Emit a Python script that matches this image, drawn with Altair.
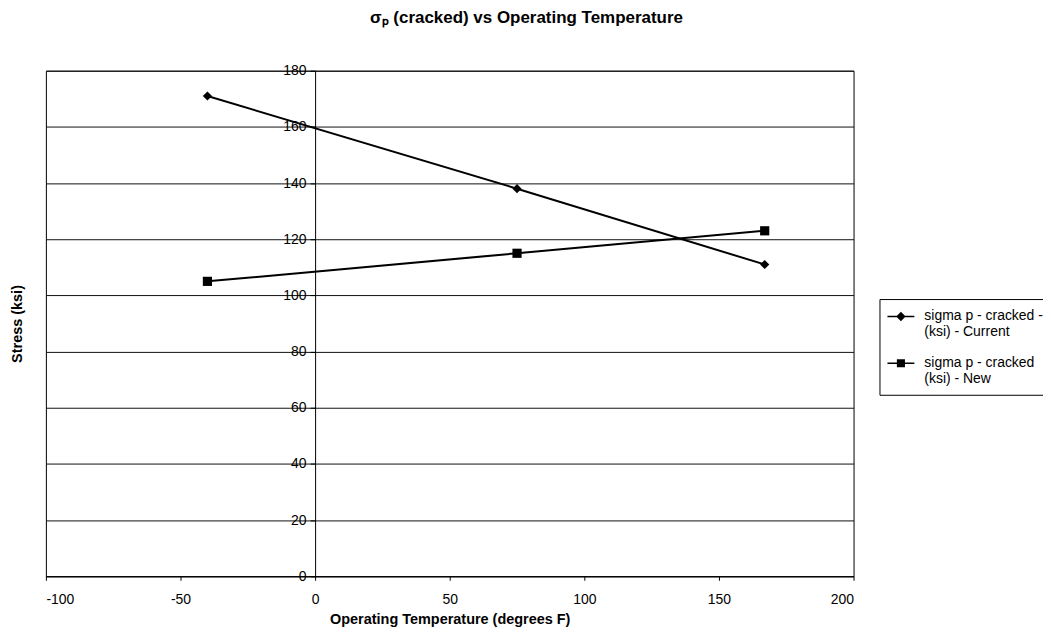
import altair as alt
import pandas as pd

temps = [-40, 75, 167]
current = [171, 138, 111]
new = [105, 115, 123]
series = ["sigma p - cracked -|(ksi) - Current", "sigma p - cracked|(ksi) - New"]
x_ticks = [-100, -50, 0, 50, 100, 150, 200]
y_ticks = [0, 20, 40, 60, 80, 100, 120, 140, 160, 180]

rows = []
for t, v in zip(temps, current):
    rows.append({"temp": t, "stress": v, "series": series[0]})
for t, v in zip(temps, new):
    rows.append({"temp": t, "stress": v, "series": series[1]})
df = pd.DataFrame(rows)

FONT = "Liberation Sans"

x = alt.X("temp:Q", scale=alt.Scale(domain=[-100, 200], nice=False),
          axis=alt.Axis(values=x_ticks, grid=False, title="Operating Temperature (degrees F)",
                        labelExpr="'' + datum.value",
                        domainColor="black", tickColor="black", tickSize=4, labelPadding=12,
                        labelFontSize=14, labelFont=FONT, labelColor="black",
                        titleFont=FONT, titleFontSize=14.5, titleFontWeight="bold",
                        titleColor="black", titlePadding=6))
y = alt.Y("stress:Q", scale=alt.Scale(domain=[0, 180], nice=False),
          axis=alt.Axis(values=y_ticks, grid=True, gridColor="#111111", gridWidth=1,
                        gridOpacity=1,
                        offset=-270, domainColor="black", tickColor="black", tickSize=5,
                        labelPadding=4, labelFontSize=14, labelFont=FONT, labelColor="black",
                        title="Stress (ksi)", titleFont=FONT, titleFontSize=14.5,
                        titleFontWeight="bold", titleColor="black", titleX=-298,
                        titleBaseline="middle"))

base = alt.Chart(df)

lines = base.mark_line(color="black", strokeWidth=2).encode(x=x, y=y, detail="series:N")

points = base.mark_point(filled=True, color="black", opacity=1, size=85).encode(
    x=x, y=y,
    shape=alt.Shape("series:N", scale=alt.Scale(domain=series, range=["diamond", "square"]),
                    legend=None),
)

legend_paths = [
    "M-1,-0.355H1V-0.245H-1ZM-0.35,-0.3L0,-0.65L0.35,-0.3L0,0.05Z",
    "M-1,-0.355H1V-0.245H-1ZM-0.3,-0.6H0.3V0H-0.3Z",
]

legend_layer = base.mark_point(filled=True, color="black", opacity=0).encode(
    x=x, y=y,
    shape=alt.Shape("series:N", scale=alt.Scale(domain=series, range=legend_paths),
                    legend=alt.Legend(title=None, orient="none", legendX=836, legendY=229,
                                      strokeColor="black", fillColor="white", padding=8,
                                      labelExpr="split(datum.label, '|')",
                                      labelFont=FONT, labelFontSize=14, labelColor="black",
                                      labelLimit=400, labelOffset=10, labelBaseline="alphabetic",
                                      symbolSize=729, symbolOpacity=1,
                                      symbolFillColor="black", symbolStrokeColor="black",
                                      symbolStrokeWidth=0, rowPadding=14)),
)

chart = alt.layer(lines, points, legend_layer).resolve_scale(shape="independent").properties(
    width=810, height=507,
    autosize=alt.AutoSizeParams(type="none"),
    padding={"left": 38, "top": 62, "right": 190, "bottom": 50},
    title=alt.TitleParams("σₚ (cracked) vs Operating Temperature", font=FONT, fontSize=17,
                          fontWeight="bold", color="black", anchor="middle", dx=77, offset=37),
    background="white",
).configure_view(stroke="black", strokeWidth=1)

chart.save("out.html", embed_options={"renderer": "svg", "actions": False})
